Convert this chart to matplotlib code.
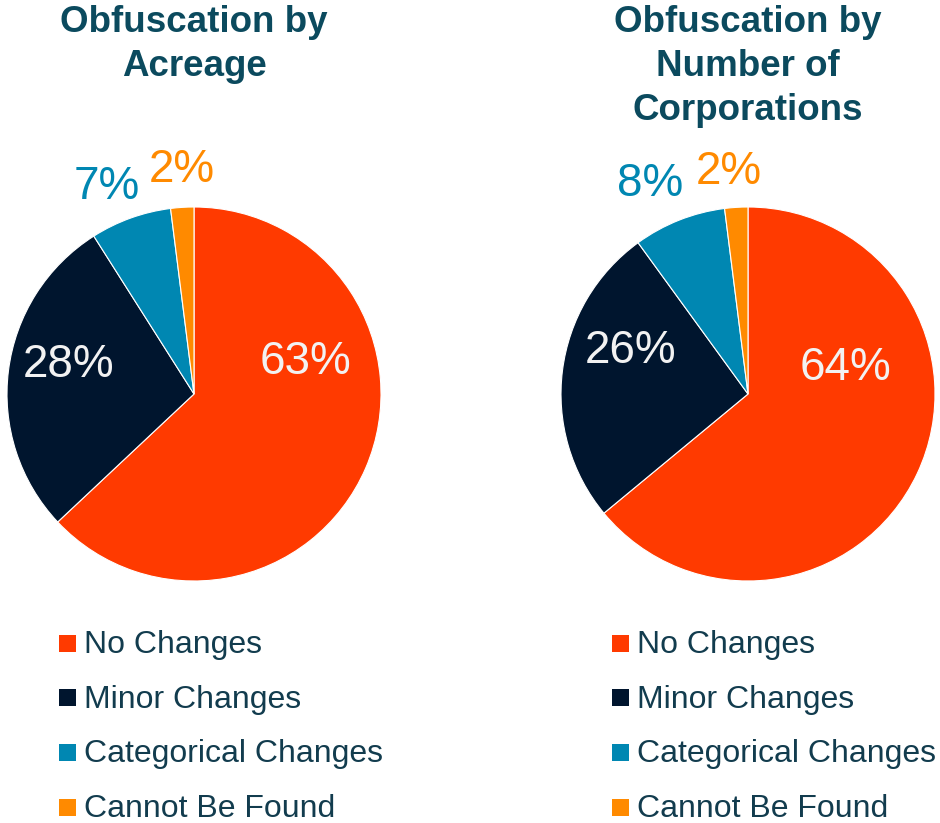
import numpy as np
import matplotlib
matplotlib.use("Agg")
import matplotlib.pyplot as plt
from matplotlib.patches import Rectangle

plt.rcParams['font.family'] = ['Liberation Sans', 'DejaVu Sans']

categories = ["No Changes", "Minor Changes", "Categorical Changes", "Cannot Be Found"]
acreage = [63, 28, 7, 2]
corporations = [64, 26, 8, 2]
titles = ["Obfuscation by\nAcreage", "Obfuscation by\nNumber of\nCorporations"]
colors = ["#FF3A00", "#00152E", "#0087B2", "#FF8A00"]
label_colors = ["#F2F2F2", "#F2F2F2", "#0087B2", "#FF8A00"]
# label placement (radius fraction, angle in degrees) per slice
label_pos_left = [(0.62, 16), (0.69, 167), (1.20, 113), (1.20, 93)]
label_pos_right = [(0.54, 15), (0.67, 160), (1.24, 115), (1.19, 95)]

W, H = 940, 823
fig = plt.figure(figsize=(W / 100, H / 100), dpi=100)

title_color = "#0B4A5E"
legend_text_color = "#123C4E"

def draw_pie(cx, cy, r, values, title, label_pos, title_y_top, legend_x):
    ax = fig.add_axes([(cx - r) / W, (H - cy - r) / H, 2 * r / W, 2 * r / H])
    ax.pie(values, colors=colors, startangle=90, counterclock=False,
           wedgeprops=dict(edgecolor="white", linewidth=0.8), radius=1.0)
    ax.set_xlim(-1, 1)
    ax.set_ylim(-1, 1)
    ax.set_aspect('equal')
    ax.axis('off')
    for v, (rr, ang), lc in zip(values, label_pos, label_colors):
        a = np.deg2rad(ang)
        ax.text(rr * np.cos(a), rr * np.sin(a), f"{v}%", color=lc,
                fontsize=33, ha='center', va='center', clip_on=False)
    fig.text(cx / W, 1 - title_y_top / H, title, ha='center', va='top',
             fontsize=26.5, fontweight='bold', color=title_color,
             linespacing=1.33)
    # legend
    for i, (cat, col) in enumerate(zip(categories, colors)):
        yc = 643 + i * 54.7
        fig.patches.append(Rectangle(((legend_x) / W, (H - yc - 8.5) / H), 17 / W, 17 / H,
                                     transform=fig.transFigure, facecolor=col,
                                     edgecolor='none'))
        fig.text((legend_x + 25) / W, 1 - (yc + 2) / H, cat, ha='left', va='center',
                 fontsize=23, color=legend_text_color)

draw_pie(194, 394, 187, acreage, titles[0], label_pos_left, 5, 59)
draw_pie(748, 394, 187, corporations, titles[1], label_pos_right, 5, 612)

fig.savefig("out.png", dpi=100)
